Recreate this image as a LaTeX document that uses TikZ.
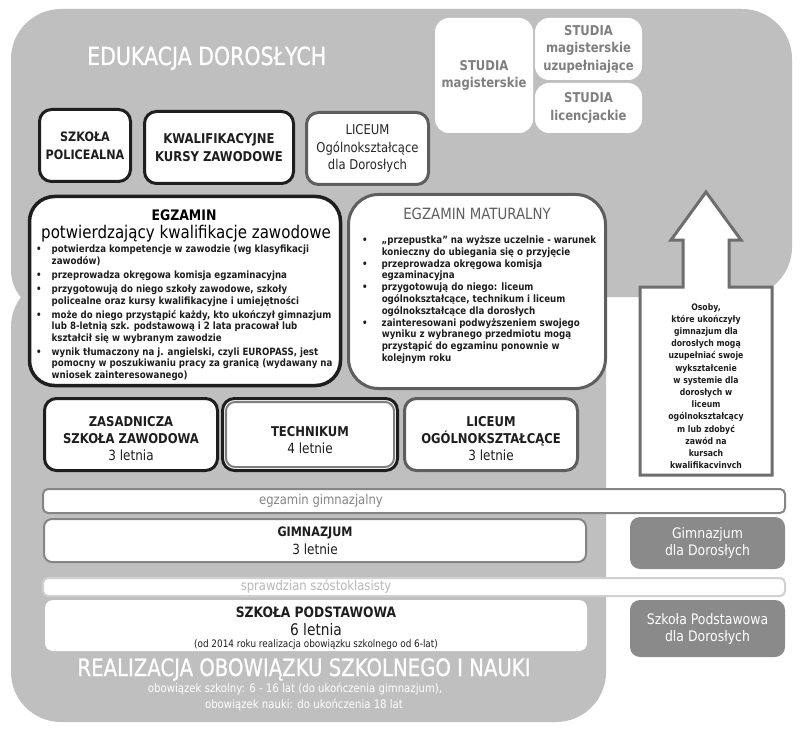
\documentclass[tikz,border=0pt]{standalone}
\usepackage{fontspec}
\setmainfont{DejaVu Sans}[FakeStretch=0.86]
\newfontfamily\tfont{DejaVu Sans}[FakeStretch=0.82, FakeBold=0.8]
\definecolor{bgc}{HTML}{BFBFBF}
\definecolor{dk}{HTML}{1E1E1E}
\definecolor{gb}{HTML}{5E5E5E}
\definecolor{gt}{HTML}{858585}
\definecolor{stt}{HTML}{7F7F7F}
\definecolor{dbox}{HTML}{8A8A8A}
\definecolor{lbar}{HTML}{D0D0D0}
\definecolor{ltx}{HTML}{B8B8B8}
\newcommand\fs[2]{\fontsize{#1}{#2}\selectfont}
\begin{document}
\begin{tikzpicture}[x=1pt,y=-1pt,
  box/.style={fill=white, rounded corners=12pt, align=center, inner sep=0pt, text=dk},
  blk/.style={box, draw=dk, line width=3pt},
  gry/.style={box, draw=gb, line width=3pt},
  stud/.style={box, rounded corners=14pt, text=stt, font=\fs{13.5}{17.5}\bfseries},
  dark/.style={fill=dbox, rounded corners=10pt, align=center, inner sep=0pt, text=white, font=\fs{14.5}{17}},
  bar/.style={fill=white, rounded corners=5pt, inner sep=0pt, line width=2pt},
  lab/.style={inner sep=0pt, align=center},
  bul/.style={inner sep=0pt, anchor=north west, align=left, text=dk}
]
\useasboundingbox (0,0) rectangle (800,738);
\fill[white] (0,0) rectangle (800,738);
% background regions
\fill[bgc, rounded corners=50pt] (11,9) rectangle (792,297);
\fill[bgc, rounded corners=43pt] (11,100) rectangle (300,313);
\fill[bgc, rounded corners=50pt] (11,277) rectangle (606,722);

\node[lab, anchor=base west, text=white, font=\fs{25}{28}\tfont] (edu) at (87,65) {EDUKACJA DOROSŁYCH};

% studia
\node[stud, minimum width=98pt, minimum height=115pt] (stm) at (484,75.5) {STUDIA\\magisterskie};
\node[stud, minimum width=107pt, minimum height=62pt] (stmu) at (588.5,49) {STUDIA\\magisterskie\\uzupełniające};
\node[stud, minimum width=107pt, minimum height=50pt] (stl) at (588.5,108) {STUDIA\\licencjackie};

% row 1
\node[blk, minimum width=91pt, minimum height=72pt, font=\fs{13}{18}\bfseries] (pol) at (85,145.5) {SZKOŁA\\POLICEALNA};
\node[blk, minimum width=149pt, minimum height=72pt, font=\fs{13.5}{18}\bfseries] (kkz) at (219,147.5) {KWALIFIKACYJNE\\KURSY ZAWODOWE};
\node[gry, minimum width=122pt, minimum height=72pt, text=black!85, font=\fs{13.5}{17.5}] (lod) at (367.5,148.5) {LICEUM\\Ogólnokształcące\\dla Dorosłych};

% egzamin zawodowy
\node[blk, line width=3.5pt, rounded corners=25pt, minimum width=311pt, minimum height=189pt] (egz) at (185,291) {};
\node[lab, anchor=base, font=\fs{14.5}{16}\bfseries] (egzt) at (184,221) {EGZAMIN};
\node[lab, anchor=base, font=\fs{17.5}{19}] (egzs) at (186,238) {potwierdzający kwalifikacje zawodowe};
\node[bul, font=\fs{10.05}{11.3}\bfseries] (egzb) at (36,244.5) {%
\begin{tabular}{@{}l@{\hspace{10pt}}l@{}}
\textbullet & potwierdza kompetencje w zawodzie (wg klasyfikacji\\
 & zawodów)\\[3pt]
\textbullet & przeprowadza okręgowa komisja egzaminacyjna\\[3pt]
\textbullet & przygotowują do niego szkoły zawodowe, szkoły\\
 & policealne oraz kursy kwalifikacyjne i umiejętności\\[3pt]
\textbullet & może do niego przystąpić każdy, kto ukończył gimnazjum\\
 & lub 8-letnią szk. podstawową i 2 lata pracował lub\\
 & kształcił się w wybranym zawodzie\\[3pt]
\textbullet & wynik tłumaczony na j. angielski, czyli  EUROPASS, jest\\
 & pomocny w poszukiwaniu pracy za granicą (wydawany na\\
 & wniosek zainteresowanego)
\end{tabular}};

% egzamin maturalny
\node[gry, rounded corners=30pt, minimum width=257pt, minimum height=194pt] (mat) at (477,291.5) {};
\node[lab, anchor=base, text=gb, font=\fs{15.5}{18}] (matt) at (477,219) {EGZAMIN MATURALNY};
\node[bul, font=\fs{10.1}{11.8}\bfseries] (matb) at (362,235) {%
\begin{tabular}{@{}l@{\hspace{14pt}}l@{}}
\textbullet & „przepustka" na wyższe uczelnie - warunek\\
 & konieczny do ubiegania się o przyjęcie\\
\textbullet & przeprowadza okręgowa komisja\\
 & egzaminacyjna\\
\textbullet & przygotowują do niego: liceum\\
 & ogólnokształcące, technikum i liceum\\
 & ogólnokształcące dla dorosłych\\
\textbullet & zainteresowani podwyższeniem swojego\\
 & wyniku z wybranego przedmiotu mogą\\
 & przystąpić  do egzaminu ponownie w\\
 & kolejnym roku
\end{tabular}};

% arrow
\draw[draw=gb!90, line width=3pt, fill=white, line join=miter]
  (640,287) -- (683,287) -- (683,240) -- (671,240) -- (706,192) -- (741,240)
  -- (729,240) -- (729,287) -- (772,287) -- (772,475) -- (640,475) -- cycle;
\node[lab, text=dk, font=\fs{9}{12.2}\bfseries] (arr) at (706,386) {Osoby,\\które ukończyły\\gimnazjum dla\\dorosłych mogą\\uzupełniać swoje\\wykształcenie\\w systemie dla\\dorosłych w\\liceum\\ogólnokształcący\\m lub zdobyć\\zawód na\\kursach\\kwalifikacvinvch};

% row 3
\node[blk, minimum width=173pt, minimum height=72pt] (zsz) at (131,434.5) {};
\node[lab, text=dk, font=\fs{13.5}{17}\bfseries] (zszt) at (131,439) {ZASADNICZA\\SZKOŁA ZAWODOWA\\\fs{14}{17}\mdseries 3 letnia};
\node[blk, minimum width=175pt, minimum height=72pt] (tech) at (310,434.5) {};
\draw[gb!80, line width=2pt, rounded corners=9pt] ([shift={(5pt,-5pt)}]tech.north west) rectangle ([shift={(-5pt,5pt)}]tech.south east);
\node[lab, text=dk, font=\fs{13.5}{17}\bfseries] (techt) at (310,440) {TECHNIKUM\\\fs{14}{17}\mdseries 4 letnie};
\node[gry, minimum width=173pt, minimum height=72pt] (lic) at (491,434.5) {};
\node[lab, text=dk, font=\fs{13.5}{17}\bfseries] (lict) at (491,439) {LICEUM\\OGÓLNOKSZTAŁCĄCE\\\fs{14}{17}\mdseries 3 letnie};

% gimnazjum
\node[bar, draw=gt, minimum width=742pt, minimum height=24pt] (egzg) at (414,501) {};
\node[lab, text=gt, font=\fs{13.5}{16}] (egzgt) at (321,501) {egzamin gimnazjalny};
\node[box, draw=gt, line width=2pt, rounded corners=8pt, minimum width=542pt, minimum height=43pt, font=\fs{13}{18}\bfseries] (gim) at (315,540.5) {GIMNAZJUM\\\fs{14}{18}\mdseries 3 letnie};
\node[dark, minimum width=155pt, minimum height=52pt] (gimd) at (707.5,543) {Gimnazjum\\dla Dorosłych};

% szkola podstawowa
\node[bar, draw=lbar, minimum width=742pt, minimum height=18pt] (spr) at (414,587) {};
\node[lab, text=ltx, font=\fs{13.5}{16}] (sprt) at (316,587) {sprawdzian szóstoklasisty};
\node[box, rounded corners=8pt, minimum width=542pt, minimum height=51pt] (sp) at (316,625.5) {};
\node[lab, anchor=base, text=dk, font=\fs{14.3}{17}\bfseries] (spt1) at (316,617) {SZKOŁA PODSTAWOWA};
\node[lab, anchor=base, text=dk, font=\fs{16}{17}] (spt2) at (316,635) {6 letnia};
\node[lab, anchor=base, text=dk, font=\fs{10.3}{13}] (spt3) at (316,647.5) {(od 2014 roku realizacja obowiązku szkolnego od 6-lat)};
\node[dark, minimum width=155pt, minimum height=57pt] (spd) at (707.5,628.5) {Szkoła Podstawowa\\dla Dorosłych};

\node[lab, anchor=base, text=white, font=\fs{24}{26}\tfont] (real) at (304,676) {REALIZACJA OBOWIĄZKU SZKOLNEGO I NAUKI};
\node[lab, anchor=base, text=white, font=\fs{11.8}{14}] (real1) at (295,692) {obowiązek szkolny: 6 - 16 lat (do ukończenia gimnazjum),};
\node[lab, anchor=base, text=white, font=\fs{11.8}{14}] (real2) at (304,708) {obowiązek nauki: do ukończenia 18 lat};
\end{tikzpicture}
\end{document}
